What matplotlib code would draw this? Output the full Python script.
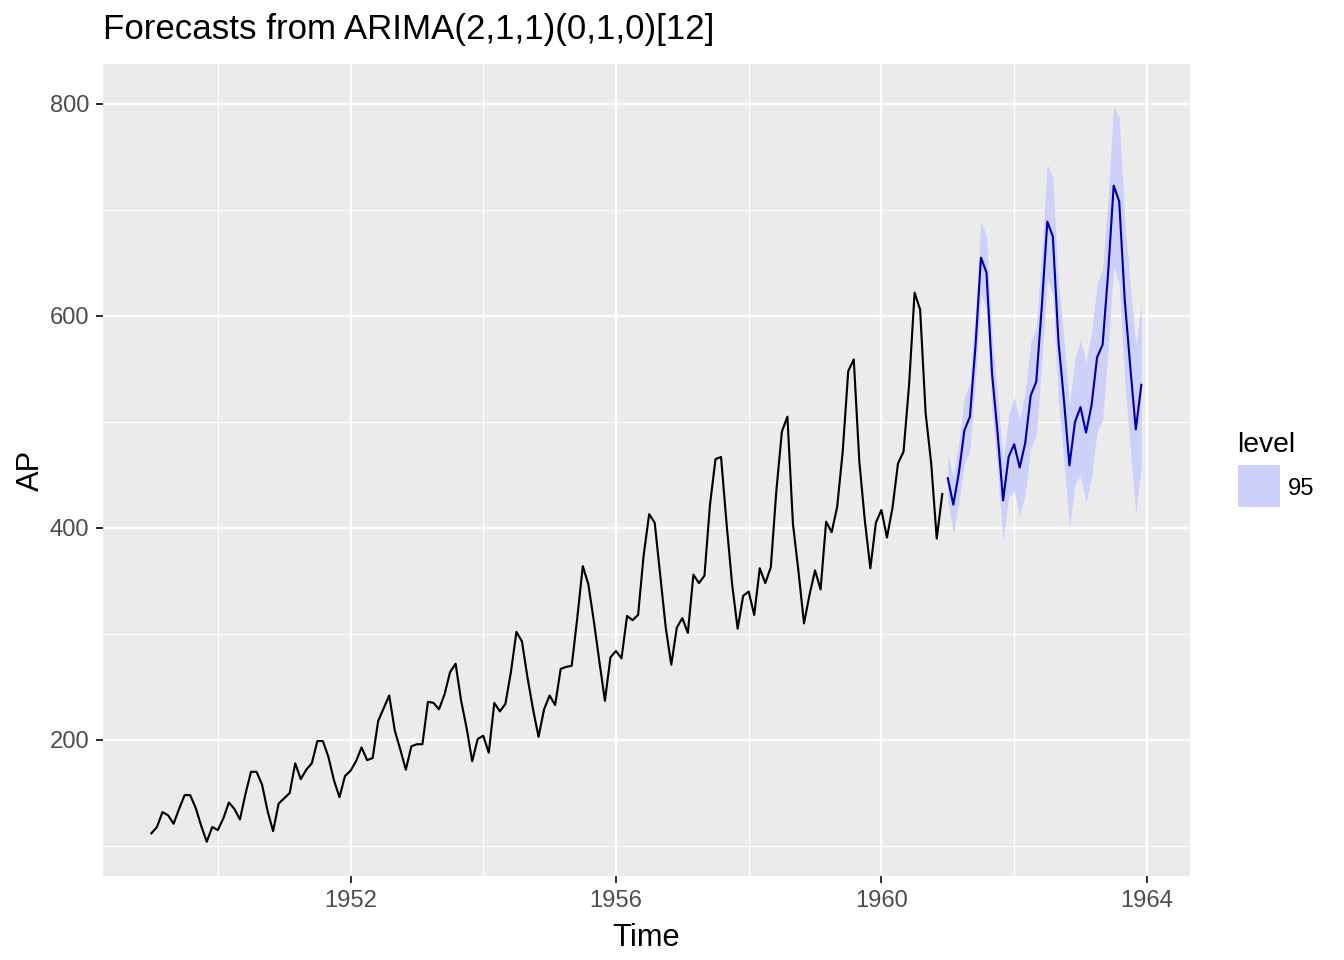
import matplotlib
matplotlib.use("Agg")
import matplotlib.pyplot as plt
import numpy as np
from matplotlib.patches import Rectangle

plt.rcParams['font.family'] = ['Liberation Sans', 'DejaVu Sans']

# AirPassengers 1949-1960 (monthly)
ap = [112,118,132,129,121,135,148,148,136,119,104,118,
      115,126,141,135,125,149,170,170,158,133,114,140,
      145,150,178,163,172,178,199,199,184,162,146,166,
      171,180,193,181,183,218,230,242,209,191,172,194,
      196,196,236,235,229,243,264,272,237,211,180,201,
      204,188,235,227,234,264,302,293,259,229,203,229,
      242,233,267,269,270,315,364,347,312,274,237,278,
      284,277,317,313,318,374,413,405,355,306,271,306,
      315,301,356,348,355,422,465,467,404,347,305,336,
      340,318,362,348,363,435,491,505,404,359,310,337,
      360,342,406,396,420,472,548,559,463,407,362,405,
      417,391,419,461,472,535,622,606,508,461,390,432]

# Point forecasts 1961-1963
fc = [447,422,452,492,505,571,655,641,546,490,426,467,
      479,457,480,525,538,609,689,675,577,521,459,500,
      514,490,516,561,573,641,723,708,615,552,493,535]

# Half width of 95% interval
hw = [22,27,29,31,32,33,34,35,36,37,38,39,
      44,46,48,50,51,52,54,55,56,57,58,59,
      64,66,68,70,71,72,76,78,76,77,80,76]

start_hist = 1949.0
start_fc = 1961.0
x_ticks = [1952, 1956, 1960, 1964]
y_ticks = [200, 400, 600, 800]
title = "Forecasts from ARIMA(2,1,1)(0,1,0)[12]"

t_hist = start_hist + np.arange(len(ap)) / 12.0
t_fc = start_fc + np.arange(len(fc)) / 12.0
fc_a = np.array(fc, dtype=float)
hw_a = np.array(hw, dtype=float)

fig = plt.figure(figsize=(7, 5), dpi=192)
fig.patch.set_facecolor('white')
ax = fig.add_axes([103/1344, 1-876/960, (1190-103)/1344, (876-64)/960])
ax.set_facecolor('#EBEBEB')

ax.set_xlim(1948.27, 1964.65)
ax.set_ylim(71.7, 837.7)
ax.set_xticks(x_ticks)
ax.set_yticks(y_ticks)
ax.set_xticks([1950, 1954, 1958, 1962], minor=True)
ax.set_yticks([100, 300, 500, 700], minor=True)
ax.grid(which='major', color='white', linewidth=0.85)
ax.grid(which='minor', color='white', linewidth=0.42)
ax.set_axisbelow(True)
for s in ax.spines.values():
    s.set_visible(False)
ax.tick_params(which='major', length=2.6, width=0.75, color='#333333',
               labelsize=8.9, labelcolor='#4D4D4D', pad=2.6)
ax.tick_params(which='minor', length=0)

ax.fill_between(t_fc, fc_a - hw_a, fc_a + hw_a, color='#CDD1F9', linewidth=0)
ax.plot(t_hist, ap, color='black', linewidth=0.8)
ax.plot(t_fc, fc, color='#0000AA', linewidth=0.8)

ax.set_xlabel('Time', fontsize=11.6, labelpad=4.0)
ax.set_ylabel('AP', fontsize=11.6, labelpad=1.3)
fig.text(103/1344, 1-30/960, title, fontsize=13.1, ha='left', va='center')

# Legend
fig.text(1237/1344, 1-445/960, 'level', fontsize=10.6, ha='left', va='center')
fig.patches.append(Rectangle((1238/1344, 1-507/960), 42/1344, 42/960,
                             transform=fig.transFigure, facecolor='#CDD1F9',
                             edgecolor='none'))
fig.text(1288/1344, 1-489/960, '95', fontsize=8.9, ha='left', va='center')

fig.savefig('out.png', dpi=192)
